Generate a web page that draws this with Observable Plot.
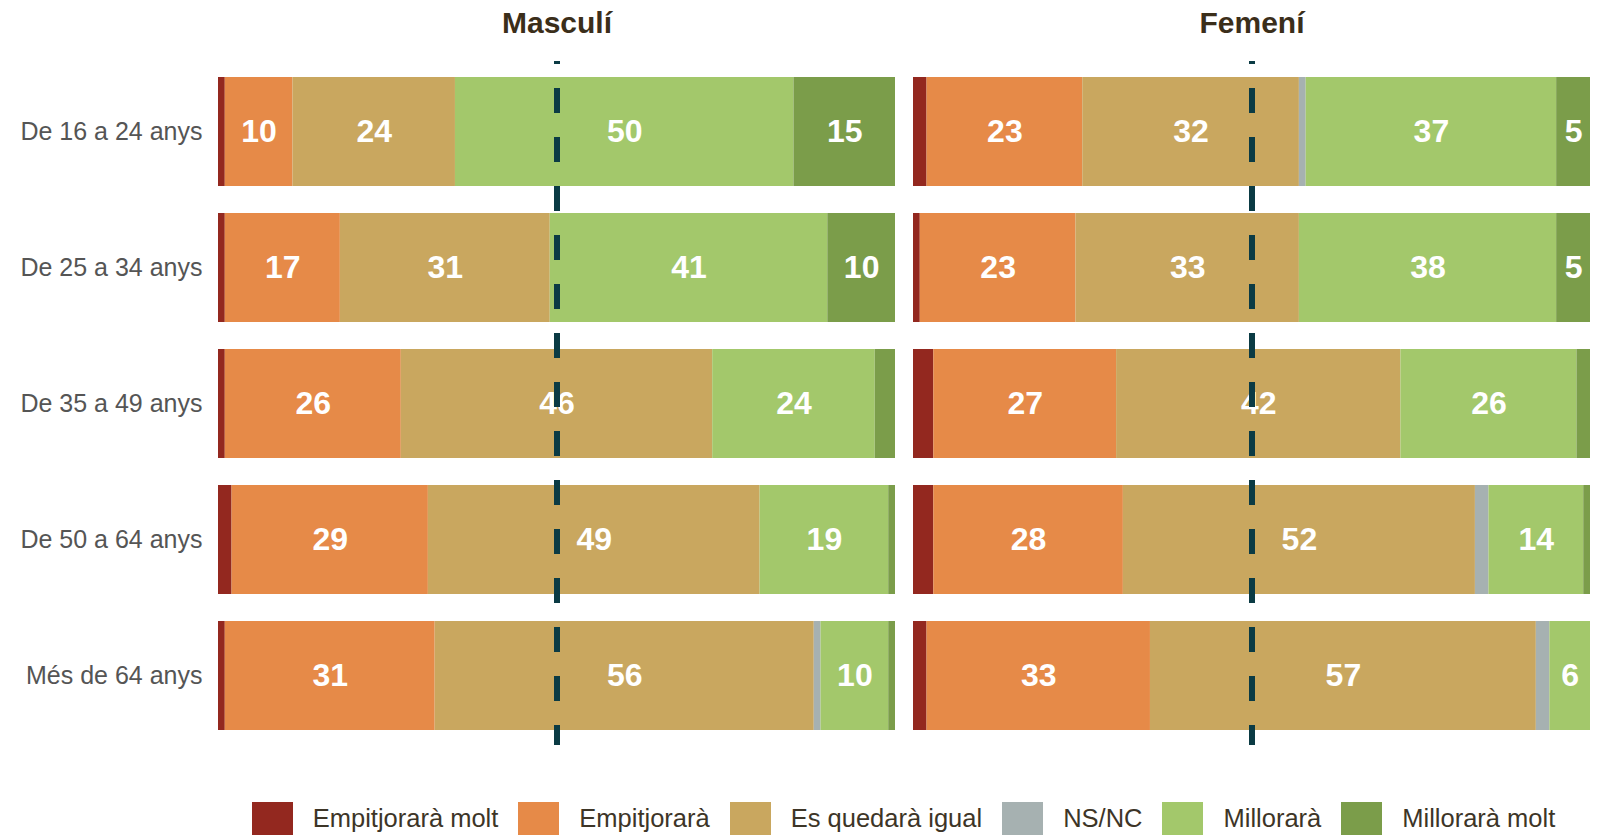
<!DOCTYPE html>
<html>
<head>
<meta charset="utf-8">
<script src="https://cdn.jsdelivr.net/npm/d3@7"></script>
<script src="https://cdn.jsdelivr.net/npm/@observablehq/plot@0.6"></script>
<style>
  html, body { margin: 0; padding: 0; background: #fff; }
  #chart { width: 1599px; }
  .legend { display: flex; justify-content: center; align-items: center;
            padding: 12px 9px 0 217px; box-sizing: border-box; width: 1599px;
            font-family: "Liberation Sans", Arial, sans-serif; font-size: 25.5px; color: #3d3527; }
  .legend .item { display: flex; align-items: center; margin: 0 10px; }
  .legend .sw { width: 41px; height: 33px; margin-right: 20px; }
</style>
</head>
<body>
<div id="chart"></div>
<script>
const sexes = ["Masculí", "Femení"];
const ages = ["De 16 a 24 anys", "De 25 a 34 anys", "De 35 a 49 anys", "De 50 a 64 anys", "Més de 64 anys"];
const categories = ["Empitjorarà molt", "Empitjorarà", "Es quedarà igual", "NS/NC", "Millorarà", "Millorarà molt"];
const colors = ["#93281f", "#e68a48", "#c9a75f", "#a6b1b1", "#a3c86b", "#7b9d4a"];

// values per category, by age group
const masculi = {
  "Empitjorarà molt": [1, 1, 1, 2, 1],
  "Empitjorarà":      [10, 17, 26, 29, 31],
  "Es quedarà igual": [24, 31, 46, 49, 56],
  "NS/NC":            [0, 0, 0, 0, 1],
  "Millorarà":        [50, 41, 24, 19, 10],
  "Millorarà molt":   [15, 10, 3, 1, 1]
};
const femeni = {
  "Empitjorarà molt": [2, 1, 3, 3, 2],
  "Empitjorarà":      [23, 23, 27, 28, 33],
  "Es quedarà igual": [32, 33, 42, 52, 57],
  "NS/NC":            [1, 0, 0, 2, 2],
  "Millorarà":        [37, 38, 26, 14, 6],
  "Millorarà molt":   [5, 5, 2, 1, 0]
};
const reference = [50];

const data = [];
for (const [sex, table] of [["Masculí", masculi], ["Femení", femeni]]) {
  ages.forEach((age, i) => {
    categories.forEach(cat => {
      data.push({sex, age, cat, value: table[cat][i]});
    });
  });
}

const plot = Plot.plot({
  width: 1599,
  height: 790,
  marginTop: 61,
  marginBottom: 45,
  marginLeft: 217,
  marginRight: 9,
  style: {fontFamily: "'Liberation Sans', Arial, sans-serif", background: "#fff"},
  fx: {domain: sexes, padding: 0.026, axis: null},
  x: {domain: [0, 100], axis: null},
  y: {domain: ages, paddingInner: 0.2, paddingOuter: 0.1, axis: null},
  color: {domain: categories, range: colors},
  marks: [
    Plot.barX(data, {x: "value", y: "age", fx: "sex", fill: "cat", order: categories}),
    Plot.text(data, Plot.stackX({
      x: "value", y: "age", fx: "sex", z: "cat", order: categories,
      text: d => d.value >= 5 ? String(d.value) : "",
      fill: "white", fontSize: 32, fontWeight: "bold"
    })),
    Plot.ruleX(reference, {x: d => d, stroke: "#0b3b44", strokeWidth: 6,
      strokeDasharray: "25,24", strokeDashoffset: 22}),
    Plot.axisY({tickSize: 0, tickPadding: 16, fontSize: 25, fill: "#555555", label: null}),
    Plot.text(sexes, {fx: d => d, text: d => d, frameAnchor: "top", dy: -38,
      lineAnchor: "middle", fontSize: 30, fontWeight: "bold", fill: "#3b2e1a"})
  ]
});
document.getElementById("chart").appendChild(plot);

const legend = document.createElement("div");
legend.className = "legend";
categories.forEach((c, i) => {
  const item = document.createElement("div");
  item.className = "item";
  const sw = document.createElement("span");
  sw.className = "sw";
  sw.style.background = colors[i];
  const label = document.createElement("span");
  label.textContent = c;
  item.appendChild(sw);
  item.appendChild(label);
  legend.appendChild(item);
});
document.getElementById("chart").appendChild(legend);
</script>
</body>
</html>
